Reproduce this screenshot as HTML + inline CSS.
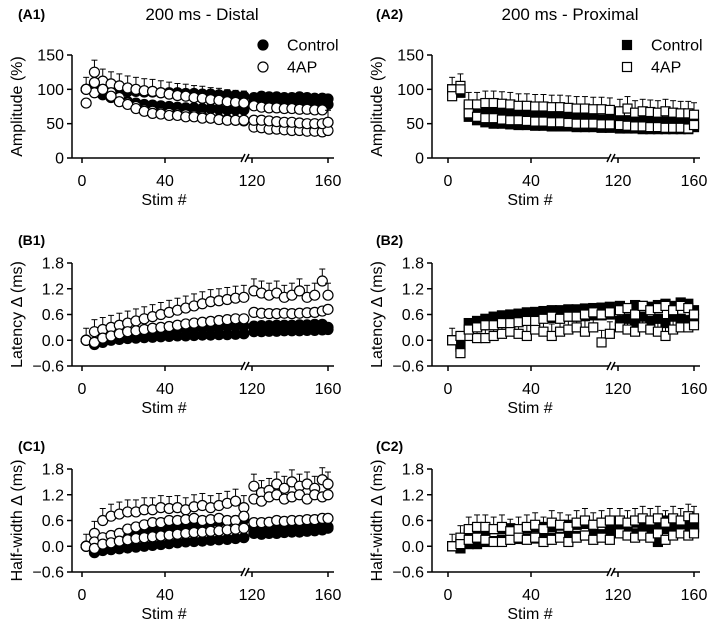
<!DOCTYPE html>
<html><head><meta charset="utf-8"><style>
body{margin:0;background:#fff;}
svg{display:block;font-family:"Liberation Sans",Arial,sans-serif;}
</style></head><body>
<svg id="fig" width="709" height="621" viewBox="0 0 709 621"></svg>
<script>
const xLeft=[2,6,10,14,18,22,26,30,34,38,42,46,50,54,58,62,66,70,74,78];
const xRight=[121,125,129,133,137,141,145,149,153,157,160];
const xTicks=[0,40,120,160];

const a1c1=[100,108,103,100,98,97,97,96,96,95,95,95,94,94,93,93,92,92,91,90, 88,90,89,89,88,88,89,88,87,87,86];
const a1c2=[100,100,92,88,85,82,80,78,77,76,75,74,73,73,72,72,71,70,70,70, 80,79,79,78,78,77,78,77,76,77,78];
const a1o1=[100,125,112,108,105,102,100,98,97,95,93,91,90,88,87,85,84,82,81,80, 76,74,73,73,72,72,71,71,70,70,52];
const a1o2=[80,95,100,95,88,80,75,70,68,66,65,64,63,62,60,58,57,56,55,54, 45,44,42,42,41,40,40,39,39,38,40];
const a1o3=[100,110,100,90,82,78,72,68,65,64,62,62,60,60,58,58,56,55,55,55, 55,55,54,53,52,52,51,50,50,50,52];

const a2c1=[100,95,60,55,52,50,50,49,48,48,47,47,46,46,46,45,45,45,44,44, 43,43,43,42,42,42,42,42,42,42,45];
const a2c2=[100,100,75,70,68,66,65,64,63,62,62,61,60,60,59,58,58,57,56,56, 55,55,55,54,54,54,53,53,52,52,50];
const a2o1=[100,105,78,78,80,80,79,78,76,76,75,75,74,74,73,72,72,71,71,70, 68,72,66,68,67,66,68,66,65,65,63];
const a2o2=[90,100,65,60,58,58,56,55,55,54,53,53,52,52,51,50,50,50,49,49, 48,47,46,46,45,45,44,44,44,43,48];

const b1c1=[0,-0.1,-0.05,0,0.02,0.04,0.05,0.06,0.07,0.08,0.09,0.1,0.1,0.11,0.12,0.12,0.13,0.13,0.14,0.15, 0.2,0.2,0.21,0.21,0.22,0.22,0.22,0.23,0.23,0.24,0.25];
const b1c2=[0,-0.05,0.05,0.1,0.12,0.15,0.18,0.2,0.22,0.24,0.25,0.27,0.28,0.29,0.3,0.3,0.31,0.32,0.33,0.33, 0.33,0.34,0.34,0.35,0.35,0.35,0.36,0.36,0.37,0.37,0.3];
const b1o1=[0,0.2,0.25,0.3,0.35,0.4,0.45,0.5,0.55,0.6,0.65,0.7,0.75,0.8,0.85,0.9,0.92,0.95,0.98,1.0, 1.15,1.1,1.05,1.1,1.0,1.05,1.15,1.0,1.05,1.38,1.05];
const b1o2=[0,-0.05,0.05,0.1,0.15,0.2,0.22,0.25,0.28,0.3,0.32,0.35,0.38,0.4,0.42,0.44,0.46,0.48,0.5,0.5, 0.65,0.63,0.62,0.62,0.63,0.62,0.63,0.64,0.65,0.68,0.72];

const b2c1=[0,-0.15,0.4,0.45,0.5,0.55,0.58,0.6,0.62,0.65,0.66,0.68,0.7,0.7,0.72,0.72,0.74,0.75,0.76,0.78, 0.8,0.75,0.82,0.8,0.78,0.82,0.85,0.8,0.88,0.85,0.7];
const b2c2=[0,-0.1,0.2,0.3,0.35,0.4,0.42,0.45,0.47,0.5,0.5,0.52,0.52,0.54,0.55,0.55,0.56,0.58,0.58,0.6, 0.45,0.5,0.4,0.55,0.45,0.5,0.4,0.55,0.5,0.45,0.5];
const b2o1=[0,-0.3,0.1,0.05,0.05,0.1,0.15,0.2,0.15,0.1,0.25,0.2,0.1,0.2,0.25,0.3,0.2,0.3,-0.05,0.15, 0.3,0.25,0.2,0.3,0.25,0.2,0.1,0.25,0.3,0.3,0.35];
const b2o2=[0,0.1,0.25,0.3,0.35,0.35,0.4,0.4,0.42,0.45,0.45,0.5,0.55,0.5,0.55,0.55,0.6,0.65,0.6,0.65, 0.7,0.75,0.6,0.8,0.7,0.75,0.8,0.7,0.8,0.75,0.6];

const c1c1=[0,-0.15,-0.1,-0.08,-0.06,-0.04,-0.02,0,0.02,0.04,0.06,0.08,0.1,0.11,0.12,0.14,0.15,0.16,0.18,0.2, 0.3,0.28,0.3,0.3,0.32,0.33,0.33,0.35,0.36,0.38,0.42];
const c1c2=[0,-0.05,0.05,0.1,0.15,0.2,0.25,0.3,0.35,0.4,0.42,0.45,0.48,0.5,0.52,0.55,0.57,0.58,0.6,0.62, 0.45,0.42,0.45,0.43,0.45,0.46,0.44,0.46,0.45,0.47,0.45];
const c1o1=[0,0.3,0.6,0.7,0.75,0.8,0.8,0.85,0.85,0.9,0.88,0.9,0.85,0.92,0.95,0.9,0.95,1.0,1.05,0.9, 1.4,1.25,1.3,1.45,1.35,1.5,1.4,1.45,1.35,1.55,1.45];
const c1o2=[0,0.1,0.2,0.25,0.3,0.4,0.45,0.5,0.55,0.55,0.6,0.6,0.62,0.65,0.6,0.62,0.65,0.6,0.6,0.7, 0.55,0.55,0.56,0.6,0.58,0.6,0.6,0.62,0.62,0.65,0.65];
const c1o3=[0,-0.05,0.05,0.08,0.12,0.15,0.18,0.2,0.22,0.24,0.26,0.28,0.3,0.32,0.33,0.35,0.36,0.38,0.4,0.42, 1.1,1.05,1.15,1.2,1.1,1.15,1.2,1.1,1.2,1.15,1.2];

const c2c1=[0,-0.05,0.05,0.05,0.1,0.12,0.15,0.15,0.17,0.18,0.18,0.2,0.2,0.22,0.22,0.24,0.25,0.26,0.28,0.3, 0.35,0.38,0.3,0.4,0.35,0.1,0.4,0.42,0.35,0.4,0.42];
const c2c2=[0,0.1,0.3,0.35,0.38,0.4,0.4,0.42,0.4,0.42,0.44,0.45,0.45,0.48,0.5,0.5,0.52,0.5,0.55,0.5, 0.5,0.45,0.55,0.5,0.55,0.5,0.6,0.55,0.5,0.55,0.45];
const c2o1=[0,0.2,0.4,0.45,0.45,0.4,0.45,0.35,0.4,0.45,0.5,0.4,0.55,0.5,0.45,0.55,0.6,0.5,0.55,0.6, 0.6,0.55,0.6,0.65,0.6,0.65,0.55,0.65,0.6,0.7,0.65];
const c2o2=[0,0.05,0.15,0.2,0.15,0.1,0.1,0.15,0.2,0.15,0.2,0.1,0.15,0.2,0.1,0.2,0.25,0.15,0.2,0.15, 0.3,0.25,0.2,0.25,0.2,0.3,0.15,0.25,0.3,0.25,0.3];

const ampTicks=[0,50,100,150];
const msTicks=[-0.6,0.0,0.6,1.2,1.8];
const msTickLabels=["\u22120.6","0.0","0.6","1.2","1.8"];

const NS="http://www.w3.org/2000/svg";
const svg=document.getElementById('fig');
function mk(tag,attrs,parent,txt){const e=document.createElementNS(NS,tag);for(const k in attrs)e.setAttribute(k,attrs[k]);if(txt!==undefined)e.textContent=txt;(parent||svg).appendChild(e);return e;}

const cols=[{axisX:72,x0:82,x40:165,x120:252,x160:328,end:334},{axisX:432,x0:448,x40:531,x120:618,x160:694,end:700}];
const rows=[{top:55,bot:158,min:0,max:150,ticks:ampTicks,labels:ampTicks.map(String),title:"Amplitude (%)"},
            {top:263,bot:366,min:-0.6,max:1.8,ticks:msTicks,labels:msTickLabels,title:"Latency \u0394 (ms)"},
            {top:469,bot:572,min:-0.6,max:1.8,ticks:msTicks,labels:msTickLabels,title:"Half-width \u0394 (ms)"}];

function xScale(c,v){return v<100? c.x0+v*(c.x40-c.x0)/40 : c.x120+(v-120)*(c.x160-c.x120)/40;}
function yScale(r,v){return r.bot-(v-r.min)/(r.max-r.min)*(r.bot-r.top);}

const panels=[
 {id:"A1",col:0,row:0,shape:"circle",ctrl:[a1c1,a1c2],ap:[a1o1,a1o2,a1o3]},
 {id:"A2",col:1,row:0,shape:"square",ctrl:[a2c1,a2c2],ap:[a2o1,a2o2]},
 {id:"B1",col:0,row:1,shape:"circle",ctrl:[b1c1,b1c2],ap:[b1o1,b1o2]},
 {id:"B2",col:1,row:1,shape:"square",ctrl:[b2c1,b2c2],ap:[b2o1,b2o2]},
 {id:"C1",col:0,row:2,shape:"circle",ctrl:[c1c1,c1c2],ap:[c1o1,c1o2,c1o3]},
 {id:"C2",col:1,row:2,shape:"square",ctrl:[c2c1,c2c2],ap:[c2o1,c2o2]}];
const allX=xLeft.concat(xRight);

function marker(g,shape,x,y,filled){
  let e;
  if(shape==="circle") e=mk('circle',{cx:x,cy:y,r:5,fill:filled?'#000':'#fff',stroke:'#000','stroke-width':1.2},g);
  else e=mk('rect',{x:x-4.5,y:y-4.5,width:9,height:9,fill:filled?'#000':'#fff',stroke:'#000','stroke-width':1.2},g);
  
  
}

panels.forEach(p=>{
  const c=cols[p.col], r=rows[p.row];
  const g=mk('g',{});
  
  
  // panel label
  const lbl=mk('text',{x:c.axisX-54+(p.col?-2:0),y:r.top-18-(p.row?0:18),'font-size':14,'font-weight':'bold'},g,'('+p.id+')');
  
  
  // y axis
  const ya=mk('line',{x1:c.axisX,y1:r.top,x2:c.axisX,y2:r.bot,stroke:'#000','stroke-width':1.5},g);
  
  
  r.ticks.forEach((t,i)=>{
    const y=yScale(r,t);
    mk('line',{x1:c.axisX-5,y1:y,x2:c.axisX,y2:y,stroke:'#000','stroke-width':1.5},g);
    const tl=mk('text',{x:c.axisX-8,y:y+5.5,'font-size':16,'text-anchor':'end'},g,r.labels[i]);
    
    
  });
  const yt=mk('text',{x:0,y:0,'font-size':16,'text-anchor':'middle',transform:`translate(${c.axisX-50},${(r.top+r.bot)/2}) rotate(-90)`},g,r.title);
  
  
  // x axis with break
  const brk=c.x120-6;
  const xa1=mk('line',{x1:c.axisX,y1:r.bot,x2:brk-3,y2:r.bot,stroke:'#000','stroke-width':1.5},g);
  
  
  mk('line',{x1:brk+1,y1:r.bot,x2:c.end,y2:r.bot,stroke:'#000','stroke-width':1.5},g);
  mk('line',{x1:brk-5,y1:r.bot+4,x2:brk-1,y2:r.bot-4,stroke:'#000','stroke-width':1.5},g);
  mk('line',{x1:brk-1,y1:r.bot+4,x2:brk+3,y2:r.bot-4,stroke:'#000','stroke-width':1.5},g);
  xTicks.forEach(t=>{
    const x=xScale(c,t);
    mk('line',{x1:x,y1:r.bot,x2:x,y2:r.bot+5,stroke:'#000','stroke-width':1.5},g);
    const tl=mk('text',{x:x,y:r.bot+28,'font-size':16,'text-anchor':'middle'},g,String(t));
    
    
  });
  const xt=mk('text',{x:(c.x0+c.x120)/2-3,y:r.bot+47,'font-size':16,'text-anchor':'middle'},g,'Stim #');
  
  
  // data
  p.ctrl.forEach(s=>{
    const sg=mk('g',{},g);
    
    
    s.forEach((v,i)=>marker(sg,p.shape,xScale(c,allX[i]),yScale(r,v),true));
  });
  p.ap.forEach((s,si)=>{
    const sg=mk('g',{},g);
    
    
    s.forEach((v,i)=>{
      const x=xScale(c,allX[i]), y=yScale(r,v);
      if(si===0){mk('line',{x1:x,y1:y,x2:x,y2:y-12,stroke:'#000','stroke-width':1},sg);mk('line',{x1:x-3,y1:y-12,x2:x+3,y2:y-12,stroke:'#000','stroke-width':1},sg);}
      marker(sg,p.shape,x,y,false);
    });
  });
});

// titles
const t1=mk('text',{x:202,y:20,'font-size':17,'text-anchor':'middle'},svg,'200 ms - Distal');


const t2=mk('text',{x:570,y:20,'font-size':17,'text-anchor':'middle'},svg,'200 ms - Proximal');



// legends
function legend(x,y,shape,filled,label){
  const g=mk('g',{});
  
  
  if(shape==='circle') mk('circle',{cx:x,cy:y,r:5,fill:filled?'#000':'#fff',stroke:'#000','stroke-width':1.2},g);
  else mk('rect',{x:x-4.5,y:y-4.5,width:9,height:9,fill:filled?'#000':'#fff',stroke:'#000','stroke-width':1.2},g);
  mk('text',{x:x+24,y:y+5.5,'font-size':16},g,label);
}
legend(263,45,'circle',true,'Control');
legend(263,67,'circle',false,'4AP');
legend(627,45,'square',true,'Control');
legend(627,67,'square',false,'4AP');
</script>
</body></html>
